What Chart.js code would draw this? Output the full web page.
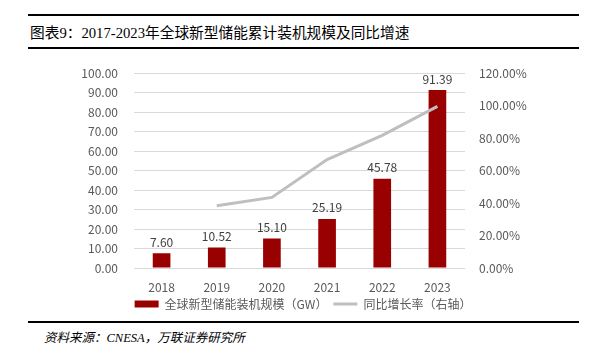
<!DOCTYPE html>
<html>
<head>
<meta charset="utf-8">
<script src="https://cdn.jsdelivr.net/npm/chart.js@4/dist/chart.umd.min.js"></script>
<style>
    body{margin:0;width:606px;height:352px;background:#fff;position:relative;overflow:hidden;}
    .rule{position:absolute;left:28px;width:551px;height:2px;background:#000;}
    #title{position:absolute;left:30px;top:21px;font-family:"Liberation Serif","Noto Sans CJK SC";font-size:14.7px;color:#000;white-space:nowrap;}
    #source{position:absolute;left:44px;top:327px;font-family:"Liberation Serif","Noto Sans CJK SC";font-size:12.5px;font-style:italic;color:#000;white-space:nowrap;}
    #wrap{position:absolute;left:0;top:50px;width:606px;height:270px;}
</style>
</head>
<body>
<div class="rule" style="top:14px"></div>
<div id="title">图表9：2017-2023年全球新型储能累计装机规模及同比增速</div>
<div class="rule" style="top:47px"></div>
<div id="wrap"><canvas id="chart"></canvas></div>
<div class="rule" style="top:321px"></div>
<div id="source">资料来源：CNESA，万联证券研究所</div>
<script>
    //data
    var years = ['2018','2019','2020','2021','2022','2023'];
    var capacity = [7.60,10.52,15.10,25.19,45.78,91.39];
    var growth = [null,38.4,43.5,66.8,81.7,99.6];
    var barName = '全球新型储能装机规模（GW）';
    var lineName = '同比增长率（右轴）';

    var font = '"Noto Sans CJK SC", "Noto Sans", sans-serif';

    // numbers above the bars
    var barLabels = {
        id:'barLabels',
        afterDatasetsDraw(chart){
            var ctx = chart.ctx;
            var meta = chart.getDatasetMeta(1);
            ctx.save();
            ctx.font = '12px ' + font;
            ctx.fillStyle = '#404040';
            ctx.textAlign = 'center';
            ctx.textBaseline = 'bottom';
            meta.data.forEach((bar,i)=>{
                ctx.fillText(capacity[i].toFixed(2), bar.x, bar.y - 5);
            });
            ctx.restore();
        }
    };

    var ctx = document.getElementById('chart').getContext('2d');
    var chart = new Chart(ctx, {
        type: 'bar',
        data: {
            labels: years,
            datasets: [{
                type:'line',
                label: lineName,
                data: growth,
                yAxisID:'y1',
                borderColor:'#BFBFBF',
                backgroundColor:'#BFBFBF',
                borderWidth:3,
                pointRadius:0,
                tension:0,
                order:0
            },{
                label: barName,
                data: capacity,
                yAxisID:'y',
                backgroundColor:'#990000',
                barPercentage:0.64,
                categoryPercentage:0.5,
                order:1
            }]
        },
        options: {
            responsive:true,
            maintainAspectRatio:false,
            animation:false,
            layout:{padding:{top:14,left:0,right:0,bottom:0}},
            plugins:{
                tooltip:{enabled:false},
                legend:{
                    position:'bottom',
                    reverse:true,
                    labels:{
                        font:{family:font,size:12},
                        color:'#595959',
                        usePointStyle:true,
                        pointStyleWidth:24,
                        boxHeight:7,
                        padding:6,
                        generateLabels(chart){
                            return chart.data.datasets.map((ds,i)=>({
                                text: ds.label,
                                datasetIndex:i,
                                fillStyle: ds.backgroundColor,
                                strokeStyle: ds.type === 'line' ? ds.borderColor : ds.backgroundColor,
                                lineWidth: ds.type === 'line' ? 3 : 0,
                                pointStyle: ds.type === 'line' ? 'line' : 'rect',
                                fontColor:'#595959'
                            }));
                        }
                    }
                }
            },
            scales:{
                x:{
                    grid:{display:false},
                    border:{display:false},
                    ticks:{font:{family:font,size:12},color:'#595959',padding:4},
                    afterFit(scale){ scale.height = 24; }
                },
                y:{
                    position:'left',
                    min:0,max:100,
                    ticks:{stepSize:10,font:{family:font,size:12},color:'#595959',padding:16,
                        callback:(v)=>v.toFixed(2)},
                    grid:{color:'#D9D9D9',lineWidth:1,drawTicks:false},
                    border:{display:false},
                    afterFit(scale){ scale.width = 134; }
                },
                y1:{
                    position:'right',
                    min:0,max:120,
                    ticks:{stepSize:20,font:{family:font,size:12},color:'#595959',padding:14,
                        callback:(v)=>v.toFixed(2) + '%'},
                    grid:{display:false,drawTicks:false},
                    border:{display:false},
                    afterFit(scale){ scale.width = 141; }
                }
            }
        },
        plugins:[barLabels]
    });
</script>
</body>
</html>
